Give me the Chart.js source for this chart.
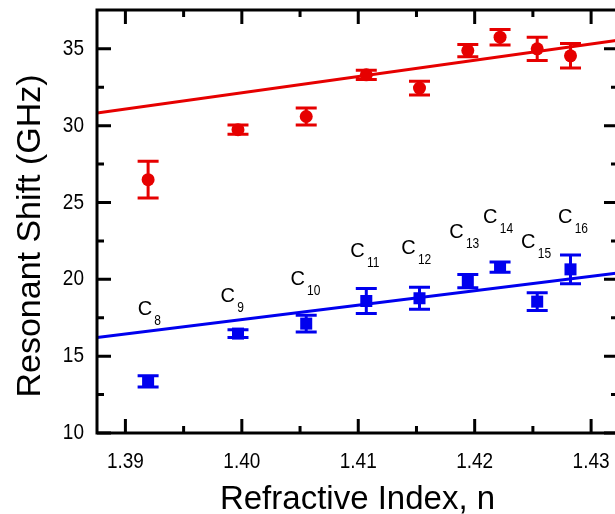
<!DOCTYPE html>
<html>
<head>
<meta charset="utf-8">
<script src="https://cdn.jsdelivr.net/npm/chart.js@4.4.0/dist/chart.umd.min.js"></script>
<style>
html,body{margin:0;padding:0;background:#fff;overflow:hidden;}
#wrap{width:630px;height:514px;}
</style>
</head>
<body>
<div id="wrap"><canvas id="c" width="630" height="514"></canvas></div>
<script>
// ---- data ----
const refractiveIndex = [1.39195, 1.39967, 1.40553, 1.41069, 1.41526, 1.41941, 1.42218, 1.42537, 1.42823];
const redShift  = [26.49, 29.74, 30.60, 33.31, 32.45, 34.89, 35.76, 35.00, 34.55];
const redErr    = [1.20, 0.30, 0.56, 0.30, 0.45, 0.40, 0.50, 0.75, 0.80];
const blueShift = [13.36, 16.47, 17.12, 18.59, 18.77, 19.89, 20.80, 18.55, 20.65];
const blueErr   = [0.36, 0.25, 0.54, 0.81, 0.71, 0.43, 0.33, 0.57, 0.94];
const fitX      = [1.38756, 1.43231];
const redFit    = [30.82, 35.57];
const blueFit   = [16.21, 20.42];
const xTicks = [1.39, 1.40, 1.41, 1.42, 1.43];
const xTickLabels = ['1.39', '1.40', '1.41', '1.42', '1.43'];
const xMinorTicks = [1.395, 1.405, 1.415, 1.425];
const yTicks = [10, 15, 20, 25, 30, 35];
const yMinorTicks = [12.5, 17.5, 22.5, 27.5, 32.5, 37.5];
const carbonLabels = ['8', '9', '10', '11', '12', '13', '14', '15', '16'];
const carbonLabelX = [1.39167, 1.39879, 1.40479, 1.40994, 1.41431, 1.41843, 1.42134, 1.42460, 1.42777];
const carbonLabelY = [18.05, 18.9, 20.0, 21.82, 22.01, 23.05, 24.03, 22.4, 24.03];
const xTitle = 'Refractive Index, n';
const yTitle = 'Resonant Shift (GHz)';

const RED = '#e60000';
const BLUE = '#0000ee';
const FONT = '"Liberation Sans", Arial, sans-serif';

const toPts = (xs, ys) => xs.map((x, i) => ({x: x, y: ys[i]}));

const errPlugin = {
  id: 'errbars',
  beforeDatasetsDraw(chart) {
    const ctx = chart.ctx, xs = chart.scales.x, ys = chart.scales.y;
    const draw = (vals, errs, color) => {
      ctx.save();
      ctx.strokeStyle = color;
      ctx.lineWidth = 3;
      ctx.lineCap = 'butt';
      vals.forEach((v, i) => {
        const px = xs.getPixelForValue(refractiveIndex[i]);
        const top = ys.getPixelForValue(v + errs[i]);
        const bot = ys.getPixelForValue(v - errs[i]);
        ctx.beginPath();
        ctx.moveTo(px, top); ctx.lineTo(px, bot);
        ctx.moveTo(px - 10.5, top); ctx.lineTo(px + 10.5, top);
        ctx.moveTo(px - 10.5, bot); ctx.lineTo(px + 10.5, bot);
        ctx.stroke();
      });
      ctx.restore();
    };
    draw(redShift, redErr, RED);
    draw(blueShift, blueErr, BLUE);
  }
};

function stretchedText(ctx, text, x, y, sy) {
  ctx.save();
  ctx.translate(x, y);
  ctx.scale(1, sy);
  ctx.fillText(text, 0, 0);
  ctx.restore();
}

const framePlugin = {
  id: 'frame',
  afterDraw(chart) {
    const ctx = chart.ctx, xs = chart.scales.x, ys = chart.scales.y;
    const a = chart.chartArea;
    ctx.save();
    ctx.strokeStyle = '#000';
    ctx.lineWidth = 3;
    ctx.strokeRect(a.left, a.top, a.right - a.left, a.bottom - a.top);
    const MAJ = 14, MIN = 7;
    ctx.beginPath();
    const xt = (v, len) => {
      const p = xs.getPixelForValue(v);
      ctx.moveTo(p, a.bottom); ctx.lineTo(p, a.bottom - len);
      ctx.moveTo(p, a.top); ctx.lineTo(p, a.top + len);
    };
    const yt = (v, len) => {
      const p = ys.getPixelForValue(v);
      if (p < a.top + 1 || p > a.bottom) return;
      ctx.moveTo(a.left, p); ctx.lineTo(a.left + len, p);
      ctx.moveTo(a.right, p); ctx.lineTo(a.right - len, p);
    };
    xTicks.forEach(v => xt(v, MAJ));
    xMinorTicks.forEach(v => xt(v, MIN));
    yTicks.forEach(v => yt(v, MAJ));
    yMinorTicks.forEach(v => yt(v, MIN));
    ctx.stroke();

    ctx.fillStyle = '#000';
    ctx.font = '19px ' + FONT;
    ctx.textAlign = 'center';
    ctx.textBaseline = 'middle';
    xTicks.forEach((v, i) => stretchedText(ctx, xTickLabels[i], xs.getPixelForValue(v), a.bottom + 29, 1.2));
    ctx.textAlign = 'right';
    yTicks.forEach(v => stretchedText(ctx, String(v), a.left - 13, ys.getPixelForValue(v), 1.15));

    ctx.font = '33px ' + FONT;
    ctx.textAlign = 'center';
    ctx.textBaseline = 'alphabetic';
    ctx.fillText(xTitle, (a.left + a.right) / 2, 509);
    ctx.save();
    ctx.translate(40, 236);
    ctx.rotate(-Math.PI / 2);
    ctx.font = '34px ' + FONT;
    ctx.fillText(yTitle, 0, 0);
    ctx.restore();

    // carbon labels
    carbonLabels.forEach((s, i) => {
      const px = xs.getPixelForValue(carbonLabelX[i]);
      const py = ys.getPixelForValue(carbonLabelY[i]);
      ctx.font = '20px ' + FONT;
      ctx.textAlign = 'center';
      ctx.textBaseline = 'middle';
      ctx.fillText('C', px, py);
      ctx.font = '12px ' + FONT;
      ctx.textAlign = 'left';
      stretchedText(ctx, s, px + 9.5, py + 12, 1.2);
    });
    ctx.restore();
  }
};

new Chart(document.getElementById('c'), {
  type: 'scatter',
  data: {
    datasets: [
      {data: toPts(fitX, redFit), showLine: true, borderColor: RED, borderWidth: 3, pointRadius: 0, fill: false},
      {data: toPts(fitX, blueFit), showLine: true, borderColor: BLUE, borderWidth: 3, pointRadius: 0, fill: false},
      {data: toPts(refractiveIndex, redShift), pointStyle: 'circle', pointRadius: 6.5, backgroundColor: RED, borderColor: RED, borderWidth: 0},
      {data: toPts(refractiveIndex, blueShift), pointStyle: 'rect', pointRadius: 8.5, backgroundColor: BLUE, borderColor: BLUE, borderWidth: 0}
    ]
  },
  options: {
    responsive: false,
    animation: false,
    layout: {padding: {left: 97, top: 10, right: 12, bottom: 81}},
    plugins: {legend: {display: false}, tooltip: {enabled: false}},
    scales: {
      x: {type: 'linear', min: fitX[0], max: fitX[1], display: false},
      y: {type: 'linear', min: 10, max: 37.53, display: false}
    }
  },
  plugins: [errPlugin, framePlugin]
});
</script>
</body>
</html>
